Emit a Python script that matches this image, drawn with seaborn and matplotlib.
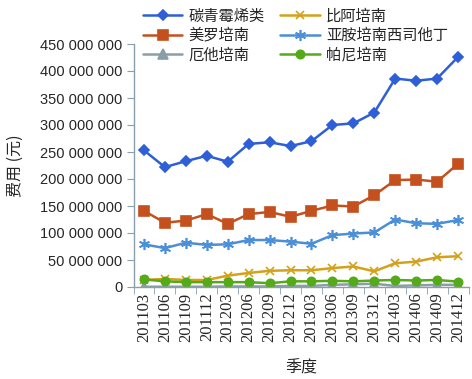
import numpy as np
import pandas as pd
import matplotlib
matplotlib.use("Agg")
import matplotlib.pyplot as plt
from matplotlib.ticker import FuncFormatter, FixedLocator
import seaborn as sns

# quarters and spending per drug (yuan)
quarters = ["201103", "201106", "201109", "201112", "201203", "201206", "201209", "201212",
            "201303", "201306", "201309", "201312", "201403", "201406", "201409", "201412"]
carbapenems = [253, 222, 233, 243, 232, 265, 268, 261, 270, 300, 303, 323, 386, 382, 386, 426]
meropenem = [141, 119, 123, 135, 117, 135, 139, 130, 141, 151, 149, 170, 198, 199, 195, 228]
imipenem = [79, 72, 82, 78, 79, 87, 87, 84, 80, 96, 99, 101, 125, 118, 117, 124]
biapenem = [13, 15, 13, 13, 21, 26, 30, 31, 31, 35, 38, 29, 44, 47, 55, 57]
panipenem = [14, 10.5, 9, 9, 9, 9, 7, 10.5, 10.5, 11.5, 10.5, 12, 13, 12, 13, 10]
ertapenem = [0.5, 0.5, 0.5, 0.5, 1, 1, 1, 2, 2, 4, 5, 6, 2, 3, 4, 4]

sns.set_style("white")
plt.rcParams['font.family'] = ['Noto Sans CJK SC', 'DejaVu Sans']

series = [
    ("碳青霉烯类", carbapenems, "#2f5fd6", "D", 5),
    ("美罗培南", meropenem, "#c4501e", "s", 6.5),
    ("厄他培南", ertapenem, "#8a9ea6", "^", 6.5),
    ("比阿培南", biapenem, "#d4a11b", "x", 6),
    ("亚胺培南西司他丁", imipenem, "#4a8fd8", (6, 2, 0), 8),
    ("帕尼培南", panipenem, "#55aa1a", "o", 6),
]

rows = []
for name, vals, *_ in series:
    for i, v in enumerate(vals):
        rows.append({"drug": name, "pos": i, "cost": v * 1e6})
df = pd.DataFrame(rows)

fig = plt.figure(figsize=(4.72, 3.79), dpi=100)
ax = fig.add_axes([133.5 / 472, 1 - 287 / 379, 335 / 472, 243 / 379])

for name, vals, color, marker, ms in series:
    sub = df[df["drug"] == name]
    sns.lineplot(data=sub, x="pos", y="cost", ax=ax, color=color, marker=marker,
                 markersize=ms, linewidth=1.8, markeredgecolor=color,
                 markeredgewidth=1.2, label=name)

ax.set_xlim(-0.5, len(quarters) - 0.5)
ax.set_ylim(0, 450e6)
ax.set_yticks(np.arange(0, 450e6 + 1, 50e6))
ax.yaxis.set_major_formatter(FuncFormatter(lambda v, p: f"{int(v):,}".replace(",", " ")))
ax.set_xticks(range(len(quarters)))
ax.set_xticklabels(quarters, rotation=90)
ax.xaxis.set_minor_locator(FixedLocator(np.arange(-0.5, len(quarters), 1)))

spine_c = "#8a9fae"
for s in ["top", "right"]:
    ax.spines[s].set_visible(False)
for s in ["left", "bottom"]:
    ax.spines[s].set_color(spine_c)
    ax.spines[s].set_linewidth(1)
ax.tick_params(axis="y", which="major", length=5, color=spine_c, left=True, pad=3,
               labelsize=10.5, labelfontfamily="Liberation Sans")
ax.tick_params(axis="x", which="major", length=0, pad=4,
               labelsize=12, labelfontfamily="Liberation Serif")
ax.tick_params(axis="x", which="minor", length=5, color=spine_c, bottom=True)

ax.set_xlabel("季度", fontsize=11.5, labelpad=12)
ax.set_ylabel("费用 (元)", fontsize=11.5)
ax.yaxis.set_label_coords(-110 / 335, 0.5)

handles, labels = ax.get_legend_handles_labels()
ax.get_legend().remove()
fig.legend(handles, labels, ncol=2, loc="upper left", bbox_to_anchor=(135 / 472, 1.0),
           frameon=False, fontsize=11, handlelength=2.6, handletextpad=0.4,
           columnspacing=1.0, labelspacing=0.15, borderaxespad=0.1)

fig.savefig("out.png", dpi=100)
